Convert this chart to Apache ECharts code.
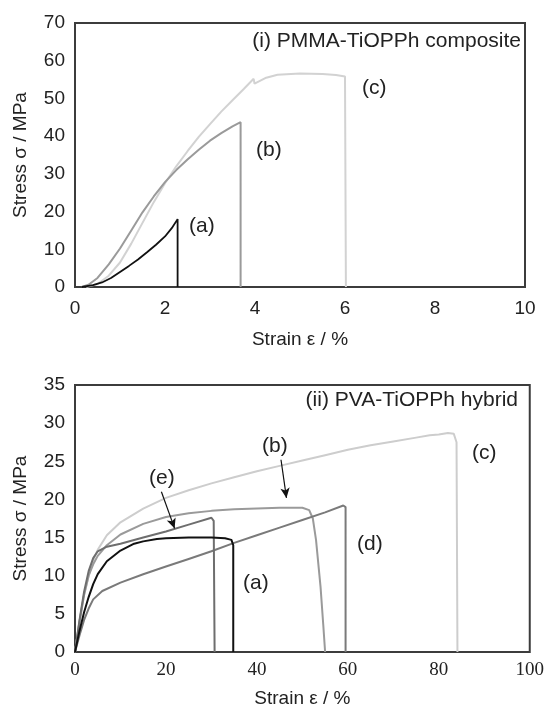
<!DOCTYPE html>
<html>
<head>
<meta charset="utf-8">
<script src="https://cdn.jsdelivr.net/npm/echarts@6/dist/echarts.min.js"></script>
<style>
html,body{margin:0;padding:0;background:#fff;}
#chart{width:547px;height:712px;}
</style>
</head>
<body>
<div id="chart"></div>
<script>
// ---------- Panel (i): PMMA-TiOPPh composite ----------
const topXTicks = [0, 2, 4, 6, 8, 10];
const topYTicks = [0, 10, 20, 30, 40, 50, 60, 70];
const pmmaA = [[0.15,0],[0.4,0.5],[0.6,1.2],[0.8,2.4],[1.0,4.0],[1.2,5.6],[1.4,7.3],[1.6,9.2],[1.8,11.2],[2.0,13.4],[2.15,15.6],[2.28,18.0],[2.28,0]];
const pmmaB = [[0.15,0],[0.3,0.6],[0.5,2.4],[0.75,6.0],[1.0,10.2],[1.25,15.0],[1.5,19.8],[1.75,24.0],[2.0,27.8],[2.25,31.0],[2.5,33.8],[2.75,36.4],[3.0,38.8],[3.25,40.8],[3.5,42.6],[3.68,43.7],[3.68,0]];
const pmmaC = [[0.25,0],[0.5,0.8],[0.75,3.0],[1.0,6.5],[1.25,11.5],[1.5,17.0],[1.75,22.5],[2.0,27.5],[2.25,32.0],[2.5,36.0],[2.75,39.8],[3.0,43.2],[3.25,46.5],[3.5,49.5],[3.75,52.5],[3.97,55.2],[3.99,53.9],[4.25,55.5],[4.5,56.3],[5.0,56.6],[5.5,56.5],[5.8,56.2],[6.0,55.8],[6.02,0]];

// ---------- Panel (ii): PVA-TiOPPh hybrid ----------
const botXTicks = [0, 20, 40, 60, 80, 100];
const botYTicks = [0, 5, 10, 15, 20, 25, 30, 35];
const pvaA = [[0,0],[1,2.8],[2,5.2],[3,7.2],[4,8.9],[5,10.2],[7,11.9],[10,13.3],[13,14.2],[15,14.5],[18,14.8],[20,14.9],[25,15.0],[30,15.0],[33,14.9],[34.4,14.7],[34.8,14.0],[34.8,0]];
const pvaB = [[0,0],[1,4.0],[2,7.5],[3,10.0],[4,11.5],[5,12.6],[7,14.0],[10,15.4],[15,16.8],[20,17.7],[25,18.2],[30,18.5],[35,18.7],[40,18.8],[45,18.9],[50,18.9],[51.5,18.6],[52.3,17.5],[53,14.7],[54,8.5],[54.6,3.5],[55,0]];
const pvaC = [[0,0],[1,4.0],[2,7.5],[3,10.0],[4,12.0],[5,13.4],[7,15.3],[10,17.0],[15,18.8],[20,20.2],[25,21.2],[30,22.1],[35,22.9],[40,23.7],[45,24.4],[50,25.1],[55,25.8],[60,26.5],[65,27.1],[70,27.6],[75,28.1],[78,28.4],[80,28.5],[82,28.7],[83.3,28.6],[83.9,27.5],[84.1,0]];
const pvaD = [[0,0],[1,2.2],[2,4.2],[3,5.7],[4,6.9],[6,8.0],[10,9.1],[15,10.2],[20,11.2],[25,12.2],[30,13.2],[35,14.3],[40,15.3],[45,16.3],[50,17.3],[55,18.3],[59,19.2],[59.5,19.0],[59.5,0]];
const pvaE = [[0,0],[1,4.2],[2,7.9],[3,10.6],[4,12.3],[5,13.2],[7,13.8],[10,14.2],[15,15.0],[20,15.8],[25,16.7],[30,17.6],[30.5,17.2],[30.7,0]];
const arrowB = [[45.3,25.2],[46.5,20.2]];
const arrowE = [[19.0,21.0],[21.9,16.2]];

const sans = 'Liberation Sans, Arial, sans-serif';
const serif = 'Liberation Serif, Times New Roman, serif';
const txt = '#222';

function lineSeries(data, color, xi, width, extra){
  return Object.assign({
    type:'line', data:data, xAxisIndex:xi, yAxisIndex:xi,
    showSymbol:false, symbol:'none', smooth:false,
    lineStyle:{color:color, width:width}, z:3, silent:true
  }, extra||{});
}
function arrowLine(pts){
  return [{coord:pts[0]},{coord:pts[1]}];
}
function arrowMark(pts){
  return {silent:true, symbol:['none','arrow'], symbolSize:[7,10], label:{show:false},
    emphasis:{disabled:true},
    lineStyle:{color:'#111', width:1.2, type:'solid'}, data:[arrowLine(pts)]};
}

const chart = echarts.init(document.getElementById('chart'), null, {renderer:'canvas'});
const option = {
  animation:false,
  backgroundColor:'#fff',
  grid:[
    {left:75, top:23, width:450, height:264, show:true, borderColor:'#3c3c3c', borderWidth:2, backgroundColor:'transparent'},
    {left:75, top:385, width:456, height:267, show:true, borderColor:'#3c3c3c', borderWidth:2, backgroundColor:'transparent'}
  ],
  xAxis:[
    {type:'value', gridIndex:0, min:topXTicks[0], max:topXTicks[topXTicks.length-1], interval:2,
     name:'Strain ε / %', nameLocation:'middle', nameGap:43,
     nameTextStyle:{fontFamily:sans, fontSize:19, color:txt},
     axisLine:{show:false}, axisTick:{show:false}, splitLine:{show:false},
     axisLabel:{fontFamily:sans, fontSize:19, color:txt, margin:12}},
    {type:'value', gridIndex:1, min:botXTicks[0], max:botXTicks[botXTicks.length-1], interval:20,
     name:'Strain ε / %', nameLocation:'middle', nameGap:37,
     nameTextStyle:{fontFamily:sans, fontSize:19, color:txt},
     axisLine:{show:false}, axisTick:{show:false}, splitLine:{show:false},
     axisLabel:{fontFamily:serif, fontSize:19, color:txt, margin:9}}
  ],
  yAxis:[
    {type:'value', gridIndex:0, min:topYTicks[0], max:topYTicks[topYTicks.length-1], interval:10,
     name:'Stress σ / MPa', nameLocation:'middle', nameGap:45,
     nameTextStyle:{fontFamily:sans, fontSize:19, color:txt},
     axisLine:{show:false}, axisTick:{show:false}, splitLine:{show:false},
     axisLabel:{fontFamily:sans, fontSize:19, color:txt, margin:10}},
    {type:'value', gridIndex:1, min:botYTicks[0], max:botYTicks[botYTicks.length-1], interval:5,
     name:'Stress σ / MPa', nameLocation:'middle', nameGap:45,
     nameTextStyle:{fontFamily:sans, fontSize:19, color:txt},
     axisLine:{show:false}, axisTick:{show:false}, splitLine:{show:false},
     axisLabel:{fontFamily:sans, fontSize:19, color:txt, margin:10}}
  ],
  series:[
    lineSeries(pmmaC, '#d2d2d2', 0, 2),
    lineSeries(pmmaB, '#9a9a9a', 0, 2),
    lineSeries(pmmaA, '#111111', 0, 1.8),
    lineSeries(pvaC, '#cdcdcd', 1, 2),
    lineSeries(pvaB, '#9a9a9a', 1, 2, {markLine: arrowMark(arrowB)}),
    lineSeries(pvaD, '#7a7a7a', 1, 2),
    lineSeries(pvaE, '#6e6e6e', 1, 2, {markLine: arrowMark(arrowE)}),
    lineSeries(pvaA, '#111111', 1, 2)
  ],
  graphic:[
    {type:'text', right:26, top:31, style:{text:'(i) PMMA-TiOPPh composite', font:'21px '+sans, fill:txt}},
    {type:'text', left:362, top:78, style:{text:'(c)', font:'21px '+sans, fill:txt}},
    {type:'text', left:256, top:140, style:{text:'(b)', font:'21px '+sans, fill:txt}},
    {type:'text', left:189, top:216, style:{text:'(a)', font:'21px '+sans, fill:txt}},
    {type:'text', right:29, top:390, style:{text:'(ii) PVA-TiOPPh hybrid', font:'21px '+sans, fill:txt}},
    {type:'text', left:262, top:436, style:{text:'(b)', font:'21px '+sans, fill:txt}},
    {type:'text', left:472, top:443, style:{text:'(c)', font:'21px '+sans, fill:txt}},
    {type:'text', left:149, top:468, style:{text:'(e)', font:'21px '+sans, fill:txt}},
    {type:'text', left:357, top:534, style:{text:'(d)', font:'21px '+sans, fill:txt}},
    {type:'text', left:243, top:573, style:{text:'(a)', font:'21px '+sans, fill:txt}}
  ]
};
chart.setOption(option);
</script>
</body>
</html>
